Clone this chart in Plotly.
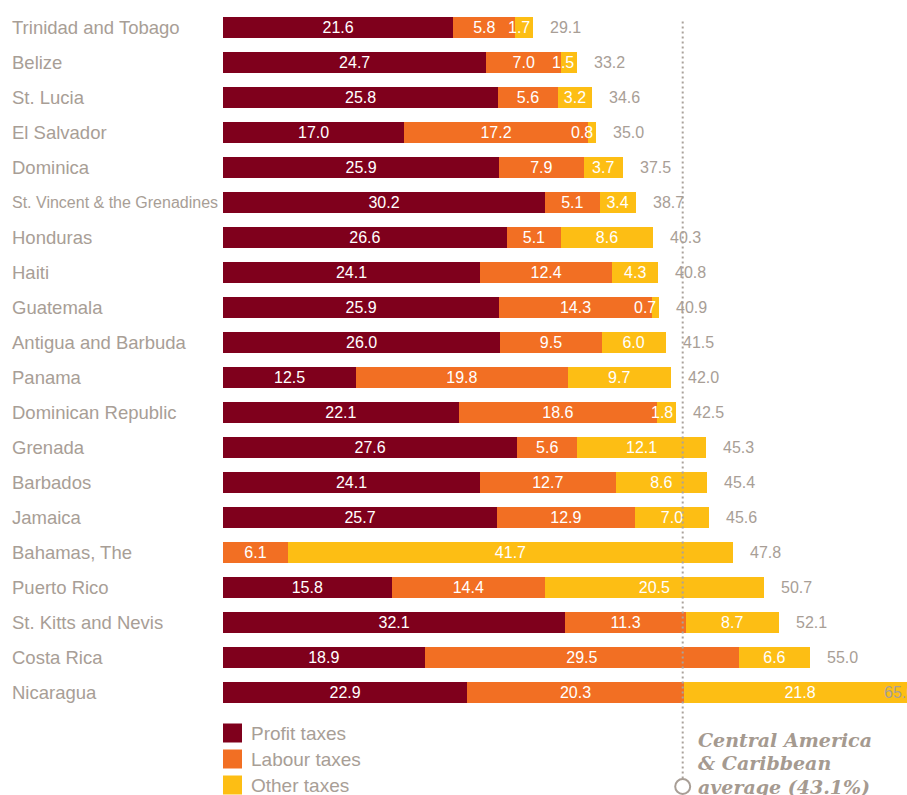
import plotly.graph_objects as go

# Total tax rate (% of commercial profits), Central America & Caribbean
countries = [
    "Trinidad and Tobago", "Belize", "St. Lucia", "El Salvador", "Dominica",
    "St. Vincent & the Grenadines", "Honduras", "Haiti", "Guatemala",
    "Antigua and Barbuda", "Panama", "Dominican Republic", "Grenada",
    "Barbados", "Jamaica", "Bahamas, The", "Puerto Rico",
    "St. Kitts and Nevis", "Costa Rica", "Nicaragua",
]
profit_taxes = [21.6, 24.7, 25.8, 17.0, 25.9, 30.2, 26.6, 24.1, 25.9, 26.0,
                12.5, 22.1, 27.6, 24.1, 25.7, 0.0, 15.8, 32.1, 18.9, 22.9]
labour_taxes = [5.8, 7.0, 5.6, 17.2, 7.9, 5.1, 5.1, 12.4, 14.3, 9.5,
                19.8, 18.6, 5.6, 12.7, 12.9, 6.1, 14.4, 11.3, 29.5, 20.3]
other_taxes = [1.7, 1.5, 3.2, 0.8, 3.7, 3.4, 8.6, 4.3, 0.7, 6.0,
               9.7, 1.8, 12.1, 8.6, 7.0, 41.7, 20.5, 8.7, 6.6, 21.8]
totals = [29.1, 33.2, 34.6, 35.0, 37.5, 38.7, 40.3, 40.8, 40.9, 41.5,
          42.0, 42.5, 45.3, 45.4, 45.6, 47.8, 50.7, 52.1, 55.0, 65.0]
region_average = 43.1

series_names = ["Profit taxes", "Labour taxes", "Other taxes"]
series_values = [profit_taxes, labour_taxes, other_taxes]
series_colors = ["#7f001c", "#f26f23", "#fdbe14"]

GREY = "#a89e96"
SANS = "Liberation Sans, Arial, sans-serif"
X_MAX = 64.13   # right edge of the page cuts the longest bar
SMALL = 2.5     # segments narrower than this get their label pushed left

fig = go.Figure()
annotations = []

running = [0.0] * len(countries)
for name, vals, col in zip(series_names, series_values, series_colors):
    fig.add_trace(go.Bar(
        y=countries,
        x=vals,
        name=name,
        orientation="h",
        marker=dict(color=col, line=dict(width=0)),
        width=0.6,
        text=[f"{v:.1f}" if v >= SMALL else "" for v in vals],
        textposition="inside",
        insidetextanchor="middle",
        textangle=0,
        constraintext="none",
        textfont=dict(color="white", size=16, family=SANS),
        showlegend=False,
        hoverinfo="skip",
    ))
    # thin segments: label ends at the segment end and spills over to the left
    for i, (c, v) in enumerate(zip(countries, vals)):
        running[i] += v
        if 0 < v < SMALL:
            annotations.append(dict(
                x=running[i], xref="x", xshift=-1, xanchor="right",
                y=c, yref="y", yanchor="middle",
                text=f"{v:.1f}", showarrow=False,
                font=dict(size=16, color="white", family=SANS),
            ))

# country names, left aligned at the page edge (long names squeezed a bit)
for c in countries:
    annotations.append(dict(
        x=0, xref="paper", xshift=-213, xanchor="left",
        y=c, yref="y", yanchor="middle",
        text=c, showarrow=False,
        font=dict(size=18.5 if len(c) < 24 else 16, color=GREY, family=SANS),
    ))

# totals at the end of each bar (kept inside the page when the bar runs off it)
for c, t in zip(countries, totals):
    if t < X_MAX - 3:
        x, shift = t, 15
    else:
        x, shift = X_MAX, -25
    annotations.append(dict(
        x=x, xref="x", xshift=shift, xanchor="left",
        y=c, yref="y", yanchor="middle",
        text=f"{t:.1f}", showarrow=False,
        font=dict(size=16, color=GREY, family=SANS),
    ))

# custom legend
shapes = []
for i, (name, col) in enumerate(zip(series_names, series_colors)):
    top = -13.5 - 26 * i
    shapes.append(dict(
        type="rect", xref="paper", yref="paper",
        xsizemode="pixel", ysizemode="pixel", xanchor=0, yanchor=0,
        x0=0, x1=19, y0=top - 19, y1=top,
        fillcolor=col, line=dict(width=0),
    ))
    annotations.append(dict(
        x=0, xref="paper", xshift=26, xanchor="left",
        y=0, yref="paper", yshift=top - 9.5, yanchor="middle",
        text=name, showarrow=False,
        font=dict(size=19, color=GREY, family=SANS),
    ))

# regional average: dotted line, circle marker and label
shapes.append(dict(
    type="line", xref="x", yref="paper",
    x0=region_average, x1=region_average, y0=-0.098, y1=0.988,
    line=dict(color="#aaa29b", width=2, dash="2px,3px"),
    layer="above",
))
shapes.append(dict(
    type="circle", xref="x", yref="paper",
    xsizemode="pixel", ysizemode="pixel",
    xanchor=region_average, yanchor=0,
    x0=-7.5, x1=7.5, y0=-84, y1=-69,
    fillcolor="white", line=dict(color="#a89e96", width=2),
    layer="above",
))
avg_lines = ["Central America", "&amp; Caribbean", f"average ({region_average}%)"]
for i, line in enumerate(avg_lines):
    annotations.append(dict(
        x=region_average, xref="x", xshift=13, xanchor="left",
        y=0, yref="paper", yshift=-29.5 - 23.5 * i, yanchor="middle",
        text=line, showarrow=False,
        font=dict(size=19, color="#a59a90", family="DejaVu Serif, serif",
                  weight="bold", style="italic"),
    ))

fig.update_layout(
    barmode="stack",
    width=907,
    height=795,
    margin=dict(l=223, r=0, t=9.5, b=84.5),
    paper_bgcolor="white",
    plot_bgcolor="white",
    xaxis=dict(range=[0, X_MAX], visible=False, fixedrange=True),
    yaxis=dict(type="category", range=[19.5, -0.5], showticklabels=False,
               showgrid=False, zeroline=False, showline=False, ticks="",
               fixedrange=True),
    uniformtext=dict(minsize=16, mode="show"),
    hovermode=False,
    shapes=shapes,
    annotations=annotations,
    font=dict(family=SANS, color=GREY),
)

# drop the default 8px body margin so the figure fills the window exactly
fig.write_html(
    "out.html",
    config={"displayModeBar": False},
    post_script="document.body.style.margin = '0';",
)
